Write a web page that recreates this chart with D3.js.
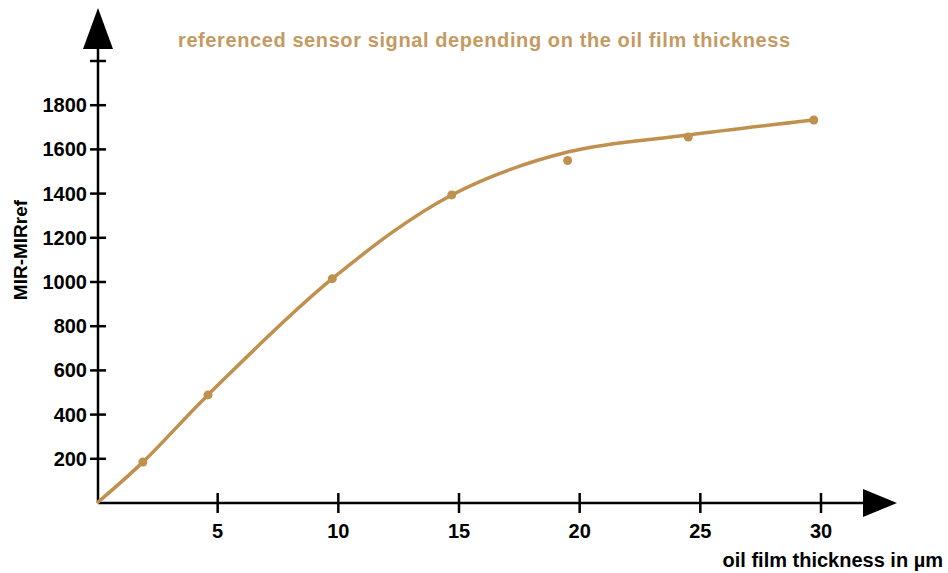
<!DOCTYPE html>
<html>
<head>
<meta charset="utf-8">
<script src="https://cdn.jsdelivr.net/npm/d3@7"></script>
<style>
  body { margin: 0; background: #fff; }
  text { font-family: "Liberation Sans", Arial, sans-serif; font-weight: bold; }
</style>
</head>
<body>
<svg width="948" height="573"></svg>
<script>
// measured points
const thickness = [1.9, 4.6, 9.75, 14.7, 19.5, 24.5, 29.7]
const signal = [185, 489, 1015, 1394, 1550, 1656, 1733]
// fitted curve
const fitThickness = [0, 1.9, 4.6, 9.75, 14.7, 19.5, 24.5, 29.7]
const fitSignal = [0, 185, 489, 1015, 1394, 1588, 1665, 1733]
const xTicks = [5, 10, 15, 20, 25, 30]
const yTicks = [200, 400, 600, 800, 1000, 1200, 1400, 1600, 1800, 2000]

const svg = d3.select('svg')
const color = '#c0904f'

const x = d3.scaleLinear().domain([0, 30]).range([97, 821])
const y = d3.scaleLinear().domain([0, 2000]).range([503, 61])

const x0 = 98, y0 = 503

// axes lines
svg.append('line')
  .attr('x1', x0).attr('y1', y0).attr('x2', 866).attr('y2', y0)
  .attr('stroke', 'black').attr('stroke-width', 2.5)
svg.append('line')
  .attr('x1', x0).attr('y1', y0).attr('x2', x0).attr('y2', 46)
  .attr('stroke', 'black').attr('stroke-width', 2.5)

// arrow heads
svg.append('path')
  .attr('d', `M${x0 - 15},49 L${x0},8 L${x0 + 15},49 Z`)
  .attr('fill', 'black')
svg.append('path')
  .attr('d', `M863,${y0 - 14} L897,${y0} L863,${y0 + 14} Z`)
  .attr('fill', 'black')

// x ticks
const xt = svg.append('g')
xt.selectAll('line')
  .data(xTicks)
  .enter().append('line')
  .attr('x1', d => x(d)).attr('x2', d => x(d))
  .attr('y1', y0 - 10).attr('y2', y0 + 10)
  .attr('stroke', 'black').attr('stroke-width', 2.5)
xt.selectAll('text')
  .data(xTicks)
  .enter().append('text')
  .attr('x', d => x(d))
  .attr('y', 538)
  .attr('text-anchor', 'middle')
  .attr('font-size', 20)
  .text(d => d)

// y ticks
const yt = svg.append('g')
yt.selectAll('line')
  .data(yTicks)
  .enter().append('line')
  .attr('x1', x0 - 8).attr('x2', x0 + 8)
  .attr('y1', d => y(d)).attr('y2', d => y(d))
  .attr('stroke', 'black').attr('stroke-width', 2.5)
yt.selectAll('text')
  .data(yTicks.filter(d => d < 2000))
  .enter().append('text')
  .attr('x', 87)
  .attr('y', d => y(d) + 7)
  .attr('text-anchor', 'end')
  .attr('font-size', 20)
  .text(d => d)

// fitted curve
const fit = fitThickness.map((t, i) => [t, fitSignal[i]])
svg.append('path')
  .datum(fit)
  .attr('d', d3.line().x(d => x(d[0])).y(d => y(d[1])).curve(d3.curveCatmullRom.alpha(0.5)))
  .attr('fill', 'none')
  .attr('stroke', color)
  .attr('stroke-width', 3.5)

// points
svg.selectAll('circle.pt')
  .data(thickness)
  .enter().append('circle')
  .attr('class', 'pt')
  .attr('cx', d => x(d))
  .attr('cy', (d, i) => y(signal[i]))
  .attr('r', 4.5)
  .attr('fill', color)

// labels
svg.append('text')
  .text('referenced sensor signal depending on the oil film thickness')
  .attr('x', 484).attr('y', 47)
  .attr('text-anchor', 'middle')
  .attr('font-size', 20)
  .attr('textLength', 612)
  .attr('fill', '#c49a62')

svg.append('text')
  .text('oil film thickness in µm')
  .attr('x', 943).attr('y', 567)
  .attr('text-anchor', 'end')
  .attr('font-size', 20)

svg.append('text')
  .text('MIR-MIRref')
  .attr('transform', 'translate(27, 250) rotate(-90)')
  .attr('text-anchor', 'middle')
  .attr('font-size', 19)
</script>
</body>
</html>
